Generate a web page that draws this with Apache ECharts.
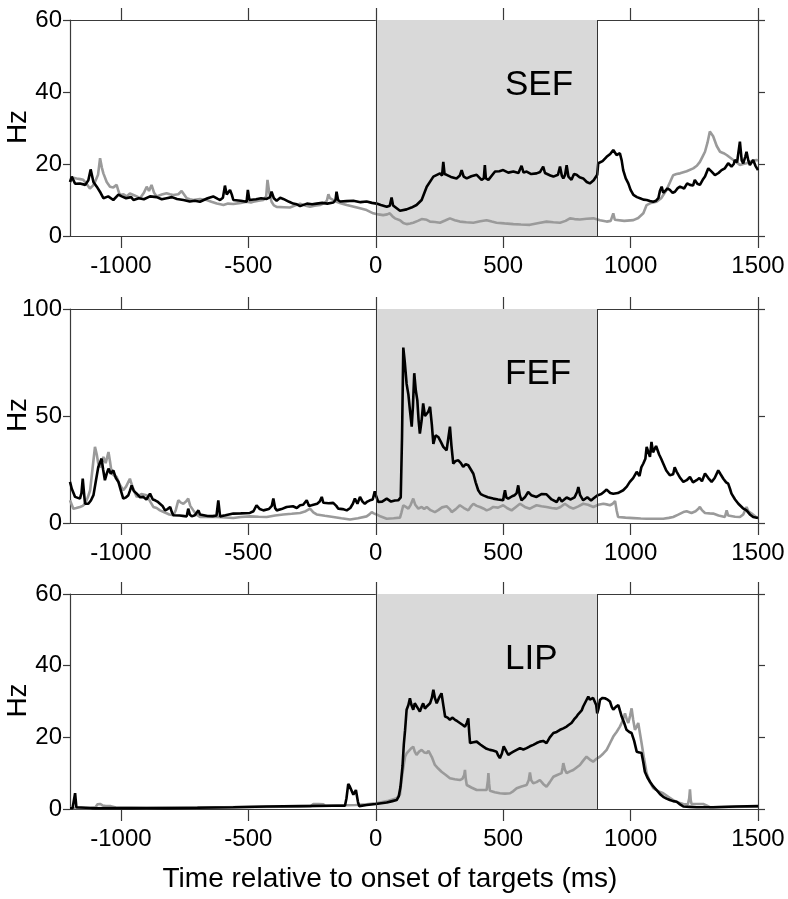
<!DOCTYPE html>
<html>
<head>
<meta charset="utf-8">
<script src="https://cdn.jsdelivr.net/npm/echarts@6/dist/echarts.min.js"></script>
<style>html,body{margin:0;padding:0;background:#fff;}#c{width:788px;height:899px;}</style>
</head>
<body>
<div id="c"></div>
<script>
// ---- data (time in ms, rate in Hz) ----
var panelNames = ['SEF', 'FEF', 'LIP'];
var xTicks = [-1000, -500, 0, 500, 1000, 1500];
var yMaxes = [60, 100, 60];
var yIntervals = [20, 50, 20];
var shadeStart = 0, shadeEnd = 870;
var xAxisTitle = 'Time relative to onset of targets (ms)';
var yAxisTitle = 'Hz';

var sefBlack = [[-1200,15],[-1193,16.5],[-1180,14.5],[-1161,14.6],[-1140,14.2],[-1128,15.5],[-1119,18.5],[-1108,15],[-1095,13.7],[-1080,12],[-1069,10.5],[-1050,11],[-1030,10],[-1010,11.5],[-997,11],[-980,10.5],[-960,10.8],[-951,10],[-930,10.5],[-910,10.2],[-886,11],[-860,10.8],[-840,10.2],[-821,10.5],[-800,10.8],[-780,10.3],[-755,10],[-730,9.6],[-710,9.8],[-690,9.5],[-660,10.5],[-638,11],[-620,10.3],[-611,10],[-600,10.6],[-592,14],[-585,11.5],[-579,11],[-572,12.8],[-565,11.5],[-559,10],[-530,9.8],[-507,9.5],[-502,12.8],[-496,10],[-470,10.2],[-450,10.5],[-428,10.3],[-415,10.8],[-409,12.3],[-400,10.5],[-389,9.8],[-375,10.6],[-363,10.3],[-340,9.5],[-324,9],[-310,8.8],[-297,8.3],[-270,9],[-250,8.8],[-232,9],[-210,9.2],[-190,9],[-167,9.3],[-158,10],[-154,12.3],[-148,10],[-140,9.6],[-115,9.7],[-88,9.8],[-60,9.4],[-36,9.6],[-15,9.2],[3,9],[20,8.6],[43,8.1],[55,8.4],[62,10.7],[68,8.5],[75,8.1],[95,7],[121,7.4],[140,7.9],[160,8.6],[180,10],[200,13.7],[226,16.5],[252,17.4],[260,16.8],[265,20.6],[270,17.2],[278,17],[295,16.4],[317,16],[330,16.8],[337,18.3],[345,16.5],[357,16],[375,16.6],[396,17],[415,15.6],[424,16],[428,19.7],[432,16],[442,15.6],[468,17.9],[485,18],[500,18.3],[520,17.6],[540,17.9],[560,17.5],[572,19.5],[580,17.6],[592,17.9],[610,17.2],[631,17.4],[645,17.8],[657,19.3],[664,17.5],[670,17.4],[685,16.8],[697,16.5],[715,17],[723,19.3],[730,16.8],[736,16],[743,17],[749,19.7],[756,16.5],[768,15.6],[778,17.2],[788,17],[800,16.3],[814,16],[828,15],[840,14.6],[855,15.5],[869,17],[873,20.2],[890,20.8],[906,22],[920,22.8],[932,23.9],[945,22.5],[958,23],[965,21],[971,18.3],[981,16],[991,14.6],[1000,12.8],[1011,11.4],[1025,10.8],[1037,10.5],[1050,10.1],[1063,10],[1076,9.7],[1089,9.5],[1100,9.8],[1109,10.5],[1115,12.5],[1122,13.7],[1128,12],[1135,11.8],[1145,13.2],[1154,12.8],[1165,12],[1174,12.3],[1185,13.3],[1194,13.7],[1210,13.2],[1222,14.6],[1233,14.2],[1245,14],[1252,15.6],[1262,14.5],[1272,14.2],[1283,15.6],[1292,16.5],[1305,18.8],[1318,17.9],[1331,16.9],[1345,17.5],[1357,18.3],[1370,18.8],[1383,20.2],[1396,19.3],[1405,20],[1409,21.1],[1418,20.5],[1429,26.2],[1436,21],[1442,20.2],[1450,22],[1455,23.4],[1462,21],[1468,19.7],[1475,20.5],[1481,21.1],[1490,19.5],[1500,18.3]];

var sefGray = [[-1200,15],[-1187,16.2],[-1174,16],[-1160,15.8],[-1148,15.6],[-1135,14.5],[-1122,13.2],[-1110,14],[-1102,15],[-1090,17],[-1082,21.6],[-1075,19],[-1069,17.4],[-1056,15],[-1043,13.7],[-1030,13.5],[-1017,14.2],[-1010,12.5],[-1004,11.4],[-990,11.6],[-978,11],[-965,11.8],[-951,11.4],[-938,11],[-925,10.5],[-910,12],[-899,13.7],[-890,12.5],[-880,14.2],[-870,12],[-860,11],[-840,11.5],[-821,11.9],[-808,11.6],[-795,11.4],[-775,11.6],[-762,12.5],[-755,12.3],[-742,10.5],[-730,10.2],[-716,10],[-690,10.3],[-664,10],[-645,9.5],[-624,9],[-610,8.8],[-598,8.6],[-580,9],[-559,8.9],[-530,9.2],[-507,9.5],[-490,9.3],[-481,9.5],[-460,9.8],[-441,10],[-430,11],[-425,15.6],[-418,12],[-409,9.5],[-400,8.5],[-389,8.1],[-360,8],[-337,7.9],[-315,8.5],[-297,9],[-278,8.5],[-258,8.1],[-240,8.4],[-219,8.6],[-200,9.2],[-192,9.8],[-186,11.6],[-180,10.5],[-173,10],[-154,9.5],[-135,9],[-114,8.6],[-90,8.2],[-62,7.7],[-36,7.2],[-10,6.3],[10,6],[29,5.8],[45,6],[55,6.3],[65,5.5],[75,4.9],[95,4.4],[108,3.6],[121,3.3],[135,3.5],[147,3.7],[165,4.2],[180,4.7],[187,4.9],[200,4.5],[213,4],[232,3.9],[252,3.7],[272,4.3],[291,4.9],[310,4.4],[330,4],[355,3.8],[383,3.7],[410,4.1],[435,4.4],[455,4],[474,3.7],[505,3.5],[540,3.3],[570,3.2],[605,3.1],[640,3.6],[670,4],[697,3.8],[723,3.7],[745,4.2],[762,4.9],[780,4.7],[801,4.6],[828,4.8],[854,4.9],[880,4.4],[906,4],[922,4.2],[932,6.3],[938,4.5],[945,4],[975,4.2],[1011,4.4],[1030,5],[1050,6.3],[1063,8.6],[1080,9.2],[1102,9.5],[1120,10.5],[1141,12.8],[1155,15],[1167,16.9],[1180,17.2],[1194,17.4],[1220,18],[1246,18.8],[1260,19.5],[1272,20.6],[1282,22],[1292,23.4],[1302,26],[1311,29],[1318,28.5],[1324,27.7],[1338,25],[1351,23.4],[1365,23],[1377,22.5],[1390,21.8],[1403,21.1],[1416,20.5],[1429,19.7],[1442,20],[1455,20.2],[1475,20.8],[1494,21.1],[1500,21]];

var fefBlack = [[-1200,19.2],[-1193,16],[-1180,12.2],[-1161,11.4],[-1155,14],[-1150,20.7],[-1145,14],[-1141,9],[-1128,9],[-1118,10.5],[-1108,13],[-1098,20],[-1089,26.2],[-1076,30.1],[-1070,25],[-1063,20],[-1056,23],[-1049,25.4],[-1040,23],[-1030,24.6],[-1020,21],[-1010,19.2],[-1000,15],[-991,11.4],[-980,12],[-971,13],[-965,15],[-958,17.6],[-950,15],[-938,13.7],[-925,12],[-912,12.2],[-900,11],[-886,13.7],[-875,11],[-866,10.6],[-857,10],[-847,9],[-837,8],[-827,5.9],[-817,6.5],[-807,7.5],[-800,5],[-794,3.6],[-770,3.5],[-750,3.2],[-742,3.1],[-736,6.7],[-730,4],[-722,3.1],[-710,3.6],[-696,5.9],[-690,4],[-683,3.1],[-660,3.3],[-640,3.2],[-625,3.5],[-618,10.6],[-611,3.1],[-590,3.6],[-559,4.4],[-530,4.5],[-494,4.7],[-480,5.5],[-468,8.3],[-455,6.5],[-441,5.9],[-420,6.5],[-408,8],[-402,11.4],[-395,7],[-389,5.9],[-370,6.5],[-350,7.5],[-325,7.8],[-310,7],[-297,8.3],[-285,8.5],[-271,10.6],[-262,8],[-252,8.3],[-230,9],[-220,10],[-212,12.2],[-206,9.5],[-199,9],[-185,9.2],[-167,9.4],[-155,8],[-147,6.7],[-130,6.5],[-114,5.9],[-100,7],[-90,9],[-82,11.4],[-72,9],[-62,12.2],[-52,10],[-43,9],[-33,10],[-23,10.6],[-12,11],[-4,14.8],[3,12],[10,9.8],[25,10],[43,11.4],[49,10.9],[60,10],[75,10.5],[88,10.6],[98,12],[103,40],[108,82],[114,75],[121,65],[128,60],[134,52.7],[141,45],[146,55],[151,70],[157,62],[163,57.4],[168,48],[173,41.8],[180,48],[186,55.9],[193,50],[200,49.6],[206,52],[213,54.3],[220,46],[226,37],[235,41],[245,40.2],[255,38],[265,35.6],[278,34],[285,40],[291,45],[297,36],[304,27.8],[314,29],[324,29.3],[334,28],[343,26.2],[353,27.5],[363,27],[373,25],[383,23],[392,19],[402,15.3],[412,13.5],[422,12.9],[440,12],[461,11.4],[480,11],[500,10.6],[503,13],[507,15.3],[512,12],[520,11.4],[535,12.5],[545,13],[553,14],[559,17.6],[565,13],[572,10.6],[585,12],[598,14.5],[610,13],[631,12.2],[650,13.5],[670,13.4],[690,11],[710,9.8],[720,12],[730,10],[749,11.9],[765,11],[780,12],[790,14.5],[795,16.8],[802,13],[814,10.6],[830,12],[845,10.5],[854,11.4],[869,12.9],[885,13.5],[895,14.5],[906,15.6],[920,14],[932,13.7],[950,14],[971,15.3],[985,17],[997,19.2],[1010,21],[1024,23.9],[1035,22],[1042,26],[1050,27.8],[1058,30],[1063,35.6],[1070,33],[1076,30.9],[1082,37.9],[1088,33],[1095,32.4],[1100,36],[1105,36.3],[1112,32],[1120,30],[1128,27.8],[1140,24.5],[1154,22.3],[1167,22.8],[1173,26],[1181,23.9],[1195,21],[1207,19.2],[1220,20],[1233,21.5],[1245,19],[1259,20],[1270,21],[1280,19.5],[1292,23.1],[1305,21],[1318,19.2],[1330,21],[1344,24.6],[1352,23],[1364,20.7],[1375,19],[1383,18.4],[1390,16],[1396,13.7],[1410,11],[1423,9],[1440,7],[1455,5.9],[1468,4],[1481,2.8],[1500,2.3]];

var fefGray = [[-1200,10.6],[-1187,6.7],[-1175,7],[-1161,7.5],[-1150,8],[-1141,9],[-1130,12],[-1121,15.3],[-1112,25],[-1102,35.6],[-1095,32],[-1089,27.8],[-1080,26],[-1069,30.9],[-1060,28],[-1049,33.2],[-1042,28],[-1036,23.1],[-1025,22],[-1017,21.5],[-1005,18],[-991,15.3],[-980,17],[-965,20.7],[-955,17],[-945,14],[-938,12.2],[-920,13.5],[-899,13],[-885,10],[-873,7.5],[-860,7],[-847,5.9],[-830,5],[-810,4],[-794,3.6],[-785,6],[-775,10.6],[-765,9.5],[-755,9],[-745,10],[-736,11.4],[-728,8],[-716,5.9],[-705,4],[-690,2.8],[-660,3],[-624,2.8],[-590,2.6],[-559,2.3],[-530,2.8],[-494,3.1],[-460,2.9],[-428,2.8],[-395,3.5],[-363,4],[-330,4.3],[-297,4.7],[-275,5.5],[-258,6.7],[-245,5],[-232,4],[-200,3.4],[-167,2.8],[-135,2.2],[-101,1.6],[-70,2.2],[-36,3.1],[-25,4],[-16,5.1],[-8,4.5],[3,4],[20,3],[43,2],[70,2.2],[95,2.5],[101,5],[108,8.3],[118,7.5],[128,6.7],[137,8.5],[147,11.4],[155,8.5],[167,6.7],[180,7.5],[190,6.5],[200,7.5],[215,6],[232,5.1],[245,6],[260,7.3],[278,7.8],[290,6.5],[298,5.1],[314,6.5],[330,8.3],[346,7],[363,5.9],[372,7.5],[383,9],[396,8],[409,7.5],[422,6.8],[435,5.9],[448,6.5],[461,7.5],[480,7.2],[500,8.3],[515,7],[533,5.9],[550,7.5],[566,9],[585,7.5],[605,6.7],[618,7.5],[631,8.3],[650,7.8],[670,7.5],[690,7],[710,6.7],[725,7.5],[742,9],[760,7.5],[775,6.7],[795,7.8],[814,9],[833,8.5],[854,7.5],[873,8.5],[893,9],[906,8.7],[919,8.3],[930,9],[939,10.3],[945,6],[951,2.8],[980,2.5],[1011,2.3],[1040,2.1],[1063,2],[1095,2],[1128,2],[1150,2.4],[1167,2.8],[1185,3.8],[1207,5.1],[1220,5.5],[1239,4.7],[1255,5.5],[1265,6.5],[1272,7.5],[1280,6],[1292,4.7],[1310,4.5],[1324,4.4],[1345,3.5],[1370,2.8],[1377,5.9],[1383,3.5],[1390,3.1],[1410,2.9],[1429,2.8],[1442,4],[1455,7.5],[1462,5.5],[1475,4.4],[1490,3],[1500,2.5]];

var lipBlack = [[-1200,0.2],[-1190,0.2],[-1185,0.5],[-1180,4.4],[-1175,0.5],[-1171,0.2],[-1100,0.2],[-1000,0.25],[-821,0.25],[-700,0.35],[-559,0.5],[-428,0.7],[-297,0.8],[-167,0.9],[-121,0.9],[-115,3],[-108,7],[-102,6.3],[-95,5.8],[-88,4],[-82,4.4],[-78,5.3],[-75,5.3],[-70,2],[-65,0.8],[-36,1.1],[0,1.4],[43,1.8],[65,2.2],[82,2.5],[90,3.5],[97,6.2],[105,12],[110,18],[115,22],[121,27.7],[128,29],[134,30.9],[140,29],[147,27.7],[153,29.5],[160,30],[166,28],[173,27.2],[180,28.5],[186,29.5],[193,28],[200,28.6],[206,29],[213,29.5],[220,31],[226,33.3],[232,31],[239,29.5],[248,31],[258,32.3],[265,29],[272,25.8],[282,25.5],[291,24.9],[300,25.5],[311,24.9],[320,24.5],[330,24],[340,23.5],[350,23],[357,24],[363,25.3],[367,21],[370,18.4],[383,18.6],[396,18.8],[410,18],[422,17.4],[435,16.8],[448,16.5],[460,16.3],[474,16],[480,15],[487,14.2],[495,15.5],[502,17.5],[507,17.9],[513,16],[520,15.1],[530,15.6],[540,16],[553,16.5],[566,17],[579,16.6],[592,17],[605,17.5],[618,17.9],[631,18.4],[644,18.8],[657,19],[670,18.4],[683,20],[697,21.2],[710,21.5],[723,22.1],[736,22.5],[749,23],[758,23.5],[768,24],[778,25],[788,25.8],[795,26.5],[801,26.7],[808,27.5],[814,28.6],[824,30],[834,31.4],[840,30.5],[847,30],[853,31],[860,31.4],[865,29],[869,26.7],[874,28],[880,30.5],[890,31],[899,30.9],[910,30.5],[919,30],[926,28.5],[932,27.7],[942,28.5],[952,29],[958,27.5],[965,25.8],[975,24],[984,22.1],[995,21.5],[1004,21.2],[1014,19],[1024,16],[1034,15.8],[1043,15.6],[1050,13],[1056,10.4],[1066,8.8],[1076,7.6],[1089,6.3],[1102,5.3],[1115,4.2],[1128,3.4],[1141,2.9],[1154,2.5],[1167,2.2],[1181,2],[1194,1.3],[1207,0.7],[1233,0.6],[1259,0.5],[1324,0.5],[1416,0.7],[1500,0.8]];

var lipGray = [[-1200,0.3],[-1120,0.3],[-1100,0.5],[-1092,1.3],[-1082,1.4],[-1072,1],[-1060,0.8],[-1040,0.8],[-1020,0.4],[-900,0.3],[-750,0.4],[-600,0.5],[-450,0.6],[-300,0.7],[-255,0.8],[-245,1.4],[-225,1.4],[-206,1.3],[-198,0.9],[-150,1],[-80,1.1],[-36,1.3],[0,1.6],[16,1.8],[50,2.3],[82,3],[95,4],[101,8.1],[108,11.5],[115,14.6],[121,15.5],[128,16],[137,16.8],[147,17.4],[153,16],[160,15.1],[170,16],[180,16.5],[190,15.8],[200,15.6],[207,16.2],[213,16.5],[220,14.5],[232,12.3],[245,11.3],[258,10.4],[275,9.5],[291,8.6],[310,8.3],[330,8.1],[340,8.4],[347,9.5],[350,10.9],[353,8.5],[357,6.7],[375,6],[396,5.3],[415,5.3],[435,5.3],[440,8],[442,10],[445,7],[448,5.1],[467,4.7],[487,4.4],[507,4.3],[527,4.4],[540,5],[553,5.8],[572,6.3],[592,6.7],[600,8],[605,10.2],[610,8],[618,7.2],[631,7.5],[644,8.1],[657,7],[670,6.2],[683,7.5],[697,9],[712,9.5],[729,10],[733,11.5],[736,12.8],[742,11],[749,10],[762,10.5],[775,10.9],[788,11.6],[801,12.3],[814,13.5],[827,14.6],[840,13.8],[853,13.2],[866,14],[880,14.6],[893,15.5],[906,16.5],[920,18.5],[932,20.2],[945,21.5],[958,23],[968,24.5],[978,26.7],[985,25],[991,24],[998,26],[1004,28.1],[1010,25],[1017,22.1],[1024,23],[1030,24],[1037,21],[1043,18.4],[1053,14],[1063,10],[1076,7.5],[1089,5.8],[1108,5],[1128,4.4],[1148,3.4],[1167,2.5],[1187,1.8],[1207,1.4],[1225,1.3],[1230,3],[1233,5.5],[1236,2.5],[1239,1.4],[1260,1.4],[1285,1.4],[1300,0.9],[1311,0.5],[1400,0.6],[1500,0.7]];

var blackSeries = [sefBlack, fefBlack, lipBlack];
var graySeries = [sefGray, fefGray, lipGray];

// ---- layout ----
var FONT = "'Liberation Sans', Arial, Helvetica, sans-serif";
var AX = '#3a3a3a';
var grids = [
  {left: 70, top: 20, width: 688, height: 216, outerBoundsMode: 'none', containLabel: false},
  {left: 70, top: 309, width: 688, height: 214, outerBoundsMode: 'none', containLabel: false},
  {left: 70, top: 594, width: 688, height: 215, outerBoundsMode: 'none', containLabel: false}
];
var labelCenters = [85, 374, 659];

var xAxes = [], yAxes = [], series = [], graphics = [];
grids.forEach(function (g, i) {
  xAxes.push({
    type: 'value', gridIndex: i, position: 'bottom', min: -1200, max: 1500,
    axisLine: {show: true, onZero: false, lineStyle: {color: AX, width: 1.2}},
    axisTick: {show: true, inside: false, length: 12, customValues: xTicks, lineStyle: {color: AX, width: 1.2}},
    axisLabel: {show: true, customValues: xTicks, margin: 18, fontSize: 24, color: '#000', fontFamily: FONT,
      formatter: function (v) { return String(v); }},
    splitLine: {show: false}
  });
  xAxes.push({
    type: 'value', gridIndex: i, position: 'top', min: -1200, max: 1500,
    axisLine: {show: true, onZero: false, lineStyle: {color: AX, width: 1.2}},
    axisTick: {show: true, inside: false, length: 12, customValues: xTicks, lineStyle: {color: AX, width: 1.2}},
    axisLabel: {show: false},
    splitLine: {show: false}
  });
  yAxes.push({
    type: 'value', gridIndex: i, position: 'left', min: 0, max: yMaxes[i], interval: yIntervals[i],
    axisLine: {show: true, onZero: false, lineStyle: {color: AX, width: 1.2}},
    axisTick: {show: true, inside: false, length: 7, lineStyle: {color: AX, width: 1.2}},
    axisLabel: {show: true, margin: 8, fontSize: 24, color: '#000', fontFamily: FONT},
    splitLine: {show: false}
  });
  yAxes.push({
    type: 'value', gridIndex: i, position: 'right', min: 0, max: yMaxes[i], interval: yIntervals[i],
    axisLine: {show: true, onZero: false, lineStyle: {color: AX, width: 1.2}},
    axisTick: {show: true, inside: false, length: 7, lineStyle: {color: AX, width: 1.2}},
    axisLabel: {show: false},
    splitLine: {show: false}
  });
  // shaded target period
  series.push({
    type: 'line', xAxisIndex: i * 2, yAxisIndex: i * 2, data: [], silent: true, z: 1,
    markArea: {silent: true, itemStyle: {color: '#d9d9d9'}, data: [[{xAxis: shadeStart}, {xAxis: shadeEnd}]]},
    markLine: {silent: true, symbol: 'none', label: {show: false},
      lineStyle: {color: '#333', width: 1, type: 'solid'},
      data: [{xAxis: shadeStart}, {xAxis: shadeEnd}]}
  });
  series.push({
    type: 'line', xAxisIndex: i * 2, yAxisIndex: i * 2, data: graySeries[i], z: 3,
    showSymbol: false, symbol: 'none', lineStyle: {color: '#9a9a9a', width: 2.6}, animation: false
  });
  series.push({
    type: 'line', xAxisIndex: i * 2, yAxisIndex: i * 2, data: blackSeries[i], z: 4,
    showSymbol: false, symbol: 'none', lineStyle: {color: '#000', width: 2.6}, animation: false
  });
  graphics.push({
    type: 'text', x: 505, y: labelCenters[i], z: 100,
    style: {text: panelNames[i], font: '35px ' + FONT, fill: '#000', textAlign: 'left', textVerticalAlign: 'middle'}
  });
  graphics.push({
    type: 'text', x: 18, y: g.top + g.height / 2 - 1, rotation: Math.PI / 2, z: 100,
    style: {text: yAxisTitle, font: '28px ' + FONT, fill: '#000', textAlign: 'center', textVerticalAlign: 'middle'}
  });
});
graphics.push({
  type: 'text', x: 390, y: 879, z: 100,
  style: {text: xAxisTitle, font: '28px ' + FONT, fill: '#000', textAlign: 'center', textVerticalAlign: 'middle'}
});

var chart = echarts.init(document.getElementById('c'), null, {renderer: 'canvas'});
chart.setOption({
  animation: false,
  backgroundColor: '#fff',
  grid: grids,
  xAxis: xAxes,
  yAxis: yAxes,
  series: series,
  graphic: {elements: graphics}
});
</script>
</body>
</html>
